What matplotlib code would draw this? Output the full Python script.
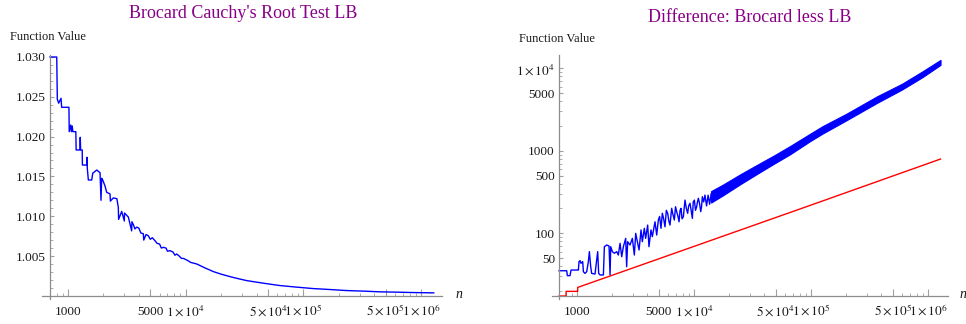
import matplotlib
matplotlib.use("Agg")
import matplotlib.pyplot as plt
from matplotlib.ticker import FixedLocator, FixedFormatter, NullFormatter

plt.rcParams['font.family'] = ['Liberation Serif', 'DejaVu Serif']
plt.rcParams['mathtext.fontset'] = 'stix'

# left panel: Brocard Cauchy's root test lower bound
root_n = [703, 802, 811, 833, 872, 883, 1018, 1024, 1054, 1070, 1085, 1100,
          1165, 1172, 1262, 1270, 1280, 1320, 1325, 1440, 1450, 1458, 1488,
          1590, 1622, 1754, 1871, 1906, 1932, 1971, 2061, 2131, 2275, 2290,
          2428, 2600, 2675, 2690, 2858, 3008, 3020, 3253, 3473, 3490, 3600,
          3700, 3833, 4000, 4150, 4364, 4400, 4600, 4812, 5000, 5200, 5483,
          5700, 6000, 6200, 6455, 6800, 7000, 7360, 7800, 8100, 8390, 8800,
          9200, 9560, 10500, 11000, 12400, 14500, 17200, 20000, 23800, 28000,
          33000, 39000, 45600, 54000, 63100, 87700, 121000, 168000, 233000,
          323000, 448000, 621000, 860000, 1280000]
root_val = [1.03000, 1.03000, 1.02469, 1.02420, 1.02481, 1.02368, 1.02368,
            1.02062, 1.02146, 1.02062, 1.02134, 1.02062, 1.02062, 1.01832,
            1.01832, 1.01991, 1.01832, 1.01832, 1.01643, 1.01643, 1.01740,
            1.01602, 1.01455, 1.01455, 1.01540, 1.01580, 1.01547, 1.01200,
            1.01476, 1.01455, 1.01380, 1.01300, 1.01280, 1.01190, 1.01230,
            1.01220, 1.01110, 1.00960, 1.01060, 1.00940, 1.01040, 1.00990,
            1.00816, 1.00931, 1.00890, 1.00840, 1.00863, 1.00850, 1.00790,
            1.00780, 1.00700, 1.00770, 1.00754, 1.00710, 1.00730, 1.00692,
            1.00660, 1.00650, 1.00600, 1.00609, 1.00600, 1.00560, 1.00567,
            1.00550, 1.00510, 1.00525, 1.00500, 1.00470, 1.00470, 1.00440,
            1.00420, 1.00400, 1.00352, 1.00304, 1.00272, 1.00241, 1.00215,
            1.00191, 1.00174, 1.00159, 1.00143, 1.00129, 1.00109, 1.00091,
            1.00079, 1.00066, 1.00059, 1.00050, 1.00046, 1.00041, 1.00037]

# right panel: Brocard minus lower bound (sparse part as a line)
diff_n = [702, 816, 827, 871, 889, 1013, 1027, 1040, 1061, 1082, 1118, 1133,
          1170, 1210, 1250, 1275, 1309, 1334, 1425, 1472, 1502, 1531, 1573,
          1680, 1713, 1794, 1878, 1916, 1941, 2006, 2085, 2183, 2255, 2332,
          2410, 2490, 2606, 2656, 2709, 2837, 2971, 3090, 3173, 3300, 3390,
          3525, 3617, 3761, 3860, 4016, 4121, 4286, 4402, 4641, 4796, 4956,
          5080, 5222, 5360, 5500, 5648, 5800, 5952, 6100, 6234, 6442, 6600,
          6788, 6950, 7111, 7300, 7448, 7600, 7745, 7900, 8110, 8250, 8375,
          8600, 8826, 9000, 9243, 9450, 9680, 9850, 10070, 10300, 10540,
          10700, 10900, 11150, 11410, 11600, 11780, 12100, 12410, 12800,
          13200, 13600, 14000]
diff_val = [35.2, 35.2, 30.7, 30.7, 35.9, 35.9, 35.9, 45.4, 46.7, 43.3, 45.4,
            34.3, 32.7, 34.3, 45.4, 60.0, 39.4, 32.7, 32.1, 47.6, 60.0, 32.7,
            31.3, 31.3, 68.9, 72.2, 70.2, 31.3, 68.9, 60.0, 57.3, 60.0, 54.6,
            75.7, 52.1, 68.9, 86.9, 39.4, 79.2, 72.2, 86.9, 54.6, 100, 75.7,
            62.8, 110, 79.2, 115, 86.9, 126, 68.9, 110, 91.1, 138, 95.4, 145,
            160, 115, 175, 150, 120, 190, 175, 140, 126, 201, 170, 145, 210,
            183, 160, 138, 190, 201, 150, 159, 205, 253, 200, 175, 215, 231,
            190, 152, 240, 253, 190, 210, 240, 266, 230, 183, 210, 278, 240,
            291, 215, 290, 225, 300]

# dense part of the difference: spread of the noisy band
band_n = [14000, 17700, 25000, 34500, 48000, 66000, 98000, 126000, 200000,
          366000, 600000, 900000, 1280000]
band_lo = [236, 289, 396, 524, 695, 905, 1307, 1623, 2336, 3805, 5535, 7841, 11007]
band_hi = [325, 390, 522, 675, 875, 1139, 1608, 1996, 2806, 4570, 6504, 9214, 12650]

# lower bound curve (red)
lb_n = [702, 805, 806, 1012, 1013, 1734, 4641, 12410, 100000, 1280000]
lb_val = [17.4, 17.4, 19.8, 19.8, 22.1, 28.9, 47.3, 77.4, 220, 795]

x_ticks = [1000, 5000, 1e4, 5e4, 1e5, 5e5, 1e6]
x_labels = ['1000', '5000', r'$1\times10^{4}$', r'$5\times10^{4}$',
            r'$1\times10^{5}$', r'$5\times10^{5}$', r'$1\times10^{6}$']
root_ticks = [1.005, 1.010, 1.015, 1.020, 1.025, 1.030]
root_labels = ['1.005', '1.010', '1.015', '1.020', '1.025', '1.030']
diff_ticks = [50, 100, 500, 1000, 5000, 1e4]
diff_labels = ['50', '100', '500', '1000', '5000', r'$1\times10^{4}$']

purple = '#880088'
axis_gray = '#8c8c8c'
blue = '#0000ff'
red = '#ff0000'


def style_axes(ax, x0, y0):
    for s in ('top', 'right'):
        ax.spines[s].set_visible(False)
    ax.spines['left'].set_position(('data', x0))
    ax.spines['bottom'].set_position(('data', y0))
    for s in ('left', 'bottom'):
        ax.spines[s].set_color(axis_gray)
        ax.spines[s].set_linewidth(0.9)
    ax.set_xscale('log')
    ax.xaxis.set_major_locator(FixedLocator(x_ticks))
    ax.xaxis.set_major_formatter(FixedFormatter(x_labels))
    minors = [m * 10 ** e for e in range(2, 7) for m in range(2, 10)
              if m != 5 and 600 < m * 10 ** e < 1.5e6]
    ax.xaxis.set_minor_locator(FixedLocator(minors))
    ax.xaxis.set_minor_formatter(NullFormatter())
    ax.tick_params(axis='x', which='major', direction='in', length=5,
                   width=0.8, color='#a0a0a0', labelsize=9.5, pad=14,
                   labelcolor='#1a1a1a')
    ax.tick_params(axis='x', which='minor', direction='in', length=2.5,
                   width=0.6, color='#a0a0a0')
    ax.tick_params(axis='y', which='major', direction='in', length=3,
                   width=0.8, color='#a0a0a0', labelsize=9.5, pad=3,
                   labelcolor='#1a1a1a')
    ax.tick_params(axis='y', which='minor', direction='in', length=1.8,
                   width=0.6, color='#a0a0a0')
    for lbl in ax.get_xticklabels():
        lbl.set_verticalalignment('baseline')


fig = plt.figure(figsize=(9.66, 3.24), dpi=100)

# ---- left panel
ax1 = fig.add_axes([42 / 966, 25 / 324, 400 / 966, 244 / 324])
ax1.plot(root_n, root_val, color=blue, lw=1.0)
ax1.set_xlim(601, 1.505e6)
ax1.set_ylim(0.99960, 1.03025)
ax1.yaxis.set_major_locator(FixedLocator(root_ticks))
ax1.yaxis.set_major_formatter(FixedFormatter(root_labels))
ax1.yaxis.set_minor_locator(FixedLocator(
    [1.0 + k * 0.001 for k in range(1, 30) if k % 5 != 0]))
style_axes(ax1, 703, 1.0)

# ---- right panel
ax2 = fig.add_axes([552 / 966, 25 / 324, 396 / 966, 244 / 324])
ax2.fill_between(band_n, band_lo, band_hi, color=blue, lw=0.8, edgecolor=blue)
ax2.plot(diff_n, diff_val, color=blue, lw=1.0)
ax2.plot(lb_n, lb_val, color=red, lw=1.0)
ax2.set_xlim(611, 1.483e6)
ax2.set_yscale('log')
ax2.set_ylim(16.0, 14500)
ax2.yaxis.set_major_locator(FixedLocator(diff_ticks))
ax2.yaxis.set_major_formatter(FixedFormatter(diff_labels))
ax2.yaxis.set_minor_locator(FixedLocator(
    [m * 10 ** e for e in range(1, 5) for m in range(1, 10)
     if m not in (1, 5) and 16 < m * 10 ** e < 14500]))
ax2.yaxis.set_minor_formatter(NullFormatter())
style_axes(ax2, 702, 17.4)

# titles and axis captions
fig.text(243 / 966, 1 - 13 / 324, "Brocard Cauchy's Root Test LB",
         ha='center', va='center', color=purple, fontsize=13)
fig.text(750 / 966, 1 - 17 / 324, "Difference: Brocard less LB",
         ha='center', va='center', color=purple, fontsize=13)
fig.text(10 / 966, 1 - 37 / 324, 'Function Value', ha='left', va='center',
         fontsize=9, color='#1a1a1a')
fig.text(519 / 966, 1 - 39 / 324, 'Function Value', ha='left', va='center',
         fontsize=9, color='#1a1a1a')
fig.text(456 / 966, 1 - 295 / 324, 'n', style='italic', ha='left',
         va='center', fontsize=10, color='#1a1a1a')
fig.text(960 / 966, 1 - 295 / 324, 'n', style='italic', ha='left',
         va='center', fontsize=10, color='#1a1a1a')

fig.savefig('out.png', dpi=100)
